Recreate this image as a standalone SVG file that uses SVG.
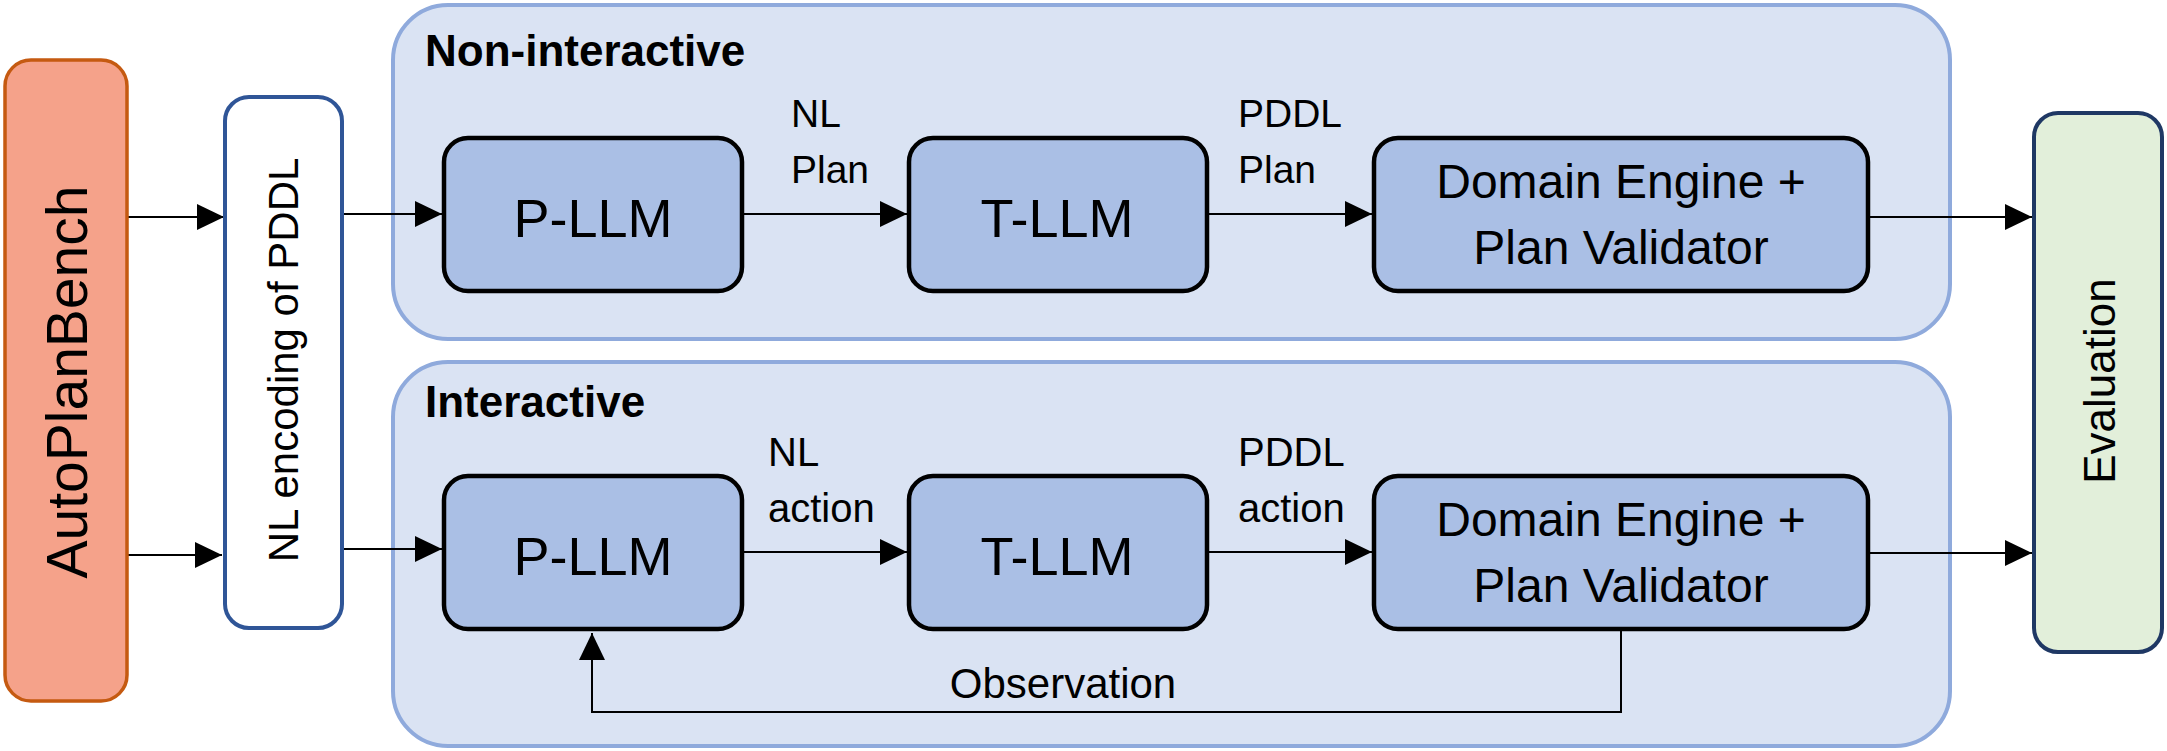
<svg xmlns="http://www.w3.org/2000/svg" width="2167" height="751" viewBox="0 0 2167 751">
<defs>
<marker id="ah" markerUnits="userSpaceOnUse" markerWidth="28" markerHeight="28" refX="27" refY="13" orient="auto">
<path d="M0,0 L27,13 L0,26 z" fill="#000"/>
</marker>
<style>
text{font-family:"Liberation Sans",Arial,sans-serif;fill:#000}
.cont{fill:#DAE3F3;stroke:#8FAADC;stroke-width:4}
.llm{fill:#AABFE5;stroke:#000;stroke-width:4.5}
.big{font-size:54px;text-anchor:middle}
.dom{font-size:48px;text-anchor:middle}
.lbl{font-size:39px}
.lbl2{font-size:40px}
.head{font-size:44px;font-weight:bold}
.conn{fill:none;stroke:#000;stroke-width:2}
.arr{marker-end:url(#ah)}
</style>
</defs>
<rect width="2167" height="751" fill="#fff"/>
<g id="noninteractive">
<rect class="cont" x="393" y="5" width="1557" height="334" rx="55" ry="55"/>
<text class="head" x="425" y="66">Non-interactive</text>
</g>
<g id="interactive">
<rect class="cont" x="393" y="362" width="1557" height="384" rx="55" ry="55"/>
<text class="head" x="425" y="417">Interactive</text>
</g>
<g id="connectors">
<line class="conn arr" x1="127" y1="217" x2="224" y2="217"/>
<line class="conn arr" x1="127" y1="555" x2="222" y2="555"/>
<line class="conn arr" x1="342" y1="214" x2="442" y2="214"/>
<line class="conn arr" x1="342" y1="549" x2="442" y2="549"/>
<line class="conn arr" x1="744" y1="214" x2="907" y2="214"/>
<line class="conn arr" x1="1209" y1="214" x2="1372" y2="214"/>
<line class="conn arr" x1="1870" y1="217" x2="2032" y2="217"/>
<line class="conn arr" x1="744" y1="552" x2="907" y2="552"/>
<line class="conn arr" x1="1209" y1="552" x2="1372" y2="552"/>
<line class="conn arr" x1="1870" y1="553" x2="2032" y2="553"/>
<polyline class="conn arr" points="1621,631 1621,712 592,712 592,633"/>
<text class="lbl" x="791" y="127">NL</text>
<text class="lbl" x="791" y="183">Plan</text>
<text class="lbl" x="1238" y="127">PDDL</text>
<text class="lbl" x="1238" y="183">Plan</text>
<text class="lbl2" x="768" y="466">NL</text>
<text class="lbl2" x="768" y="522">action</text>
<text class="lbl2" x="1238" y="466">PDDL</text>
<text class="lbl2" x="1238" y="522">action</text>
<text x="1063" y="698" font-size="42" text-anchor="middle">Observation</text>
</g>
<g id="autoplanbench">
<rect x="5" y="60" width="122" height="641" rx="26" ry="26" fill="#F5A28A" stroke="#C55A11" stroke-width="3.5"/>
<text transform="translate(87,382) rotate(-90)" font-size="57" text-anchor="middle">AutoPlanBench</text>
</g>
<g id="nlencoding">
<rect x="225" y="97" width="117" height="531" rx="24" ry="24" fill="#fff" stroke="#2F5597" stroke-width="4"/>
<text transform="translate(298,360) rotate(-90)" font-size="42" text-anchor="middle">NL encoding of PDDL</text>
</g>
<g id="pllm-top">
<rect class="llm" x="444" y="138" width="298" height="153" rx="24" ry="24"/>
<text class="big" x="593" y="237">P-LLM</text>
</g>
<g id="tllm-top">
<rect class="llm" x="909" y="138" width="298" height="153" rx="24" ry="24"/>
<text class="big" x="1057" y="237">T-LLM</text>
</g>
<g id="domain-top">
<rect class="llm" x="1374" y="138" width="494" height="153" rx="24" ry="24"/>
<text class="dom" x="1621" y="198">Domain Engine +</text>
<text class="dom" x="1621" y="264">Plan Validator</text>
</g>
<g id="pllm-bottom">
<rect class="llm" x="444" y="476" width="298" height="153" rx="24" ry="24"/>
<text class="big" x="593" y="575">P-LLM</text>
</g>
<g id="tllm-bottom">
<rect class="llm" x="909" y="476" width="298" height="153" rx="24" ry="24"/>
<text class="big" x="1057" y="575">T-LLM</text>
</g>
<g id="domain-bottom">
<rect class="llm" x="1374" y="476" width="494" height="153" rx="24" ry="24"/>
<text class="dom" x="1621" y="536">Domain Engine +</text>
<text class="dom" x="1621" y="602">Plan Validator</text>
</g>
<g id="evaluation">
<rect x="2034" y="113" width="128" height="539" rx="24" ry="24" fill="#E2EFDA" stroke="#1F3864" stroke-width="4"/>
<text transform="translate(2115,381) rotate(-90)" font-size="44" text-anchor="middle">Evaluation</text>
</g>
</svg>
